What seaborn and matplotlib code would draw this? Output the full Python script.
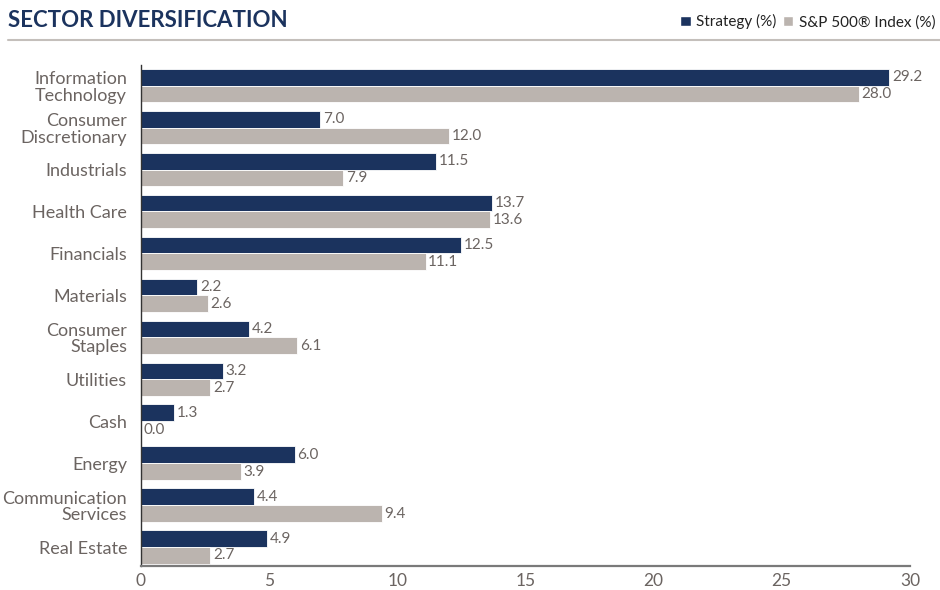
import pandas as pd
import numpy as np
import seaborn as sns
import matplotlib.pyplot as plt
from matplotlib.patches import Patch
from matplotlib.lines import Line2D

# 数据
sectors = ["Information\nTechnology", "Consumer\nDiscretionary", "Industrials", "Health Care",
           "Financials", "Materials", "Consumer\nStaples", "Utilities", "Cash", "Energy",
           "Communication\nServices", "Real Estate"]
strategy = [29.2, 7.0, 11.5, 13.7, 12.5, 2.2, 4.2, 3.2, 1.3, 6.0, 4.4, 4.9]
sp500 = [28.0, 12.0, 7.9, 13.6, 11.1, 2.6, 6.1, 2.7, 0.0, 3.9, 9.4, 2.7]
series_names = ["Strategy (%)", "S&P 500® Index (%)"]
xticks = [0, 5, 10, 15, 20, 25, 30]

navy = "#1b335e"
grey = "#bbb4af"
text_c = "#6b6461"

df = pd.DataFrame({
    "Sector": sectors * 2,
    "Value": strategy + sp500,
    "Series": [series_names[0]] * len(sectors) + [series_names[1]] * len(sectors),
})

sns.set_theme(style="white")
plt.rcParams['font.family'] = ['Lato', 'DejaVu Sans']

fig = plt.figure(figsize=(9.4, 5.9), dpi=100)
ax = fig.add_axes([0.15, 0.0407, 0.818, 0.849])

sns.barplot(data=df, y="Sector", x="Value", hue="Series", orient="h",
            palette=[navy, grey], saturation=1, width=0.8, edgecolor="white", linewidth=0.6,
            ax=ax, legend=False)

for cont in ax.containers:
    ax.bar_label(cont, fmt="%.1f", padding=2, fontsize=11, color=text_c)

ax.set_xlim(0, 30)
ax.set_ylim(11.45, -0.49)
ax.set_xticks(xticks)
ax.set_xticklabels([str(t) for t in xticks], fontsize=12.5, color=text_c)
ax.tick_params(axis="y", labelsize=13, labelcolor=text_c, length=0, pad=10)
ax.tick_params(axis="x", length=0, pad=5)
for lab in ax.get_yticklabels():
    lab.set_multialignment("right")
    lab.set_linespacing(1.05)
ax.set_xlabel("")
ax.set_ylabel("")
ax.spines["top"].set_visible(False)
ax.spines["right"].set_visible(False)
ax.spines["left"].set_color("#333333")
ax.spines["left"].set_linewidth(1.0)
ax.spines["bottom"].set_color("#7a7a7a")
ax.spines["bottom"].set_linewidth(1.6)

# 标题和分隔线
fig.text(0.009, 0.966, "SECTOR DIVERSIFICATION", fontsize=16, fontweight="bold",
         color=navy, va="center", ha="left")
fig.add_artist(Line2D([0.009, 1.0], [0.932, 0.932], color="#c4bfbb", linewidth=1.5))

# 图例
handles = [Patch(facecolor=navy), Patch(facecolor=grey)]
fig.legend(handles, series_names, loc="center right", bbox_to_anchor=(0.995, 0.963),
           ncol=2, frameon=False, fontsize=11, handlelength=0.7, handleheight=0.7,
           handletextpad=0.35, columnspacing=0.4, borderaxespad=0, borderpad=0,
           labelcolor="#222222")

fig.savefig("out.png", dpi=100)
